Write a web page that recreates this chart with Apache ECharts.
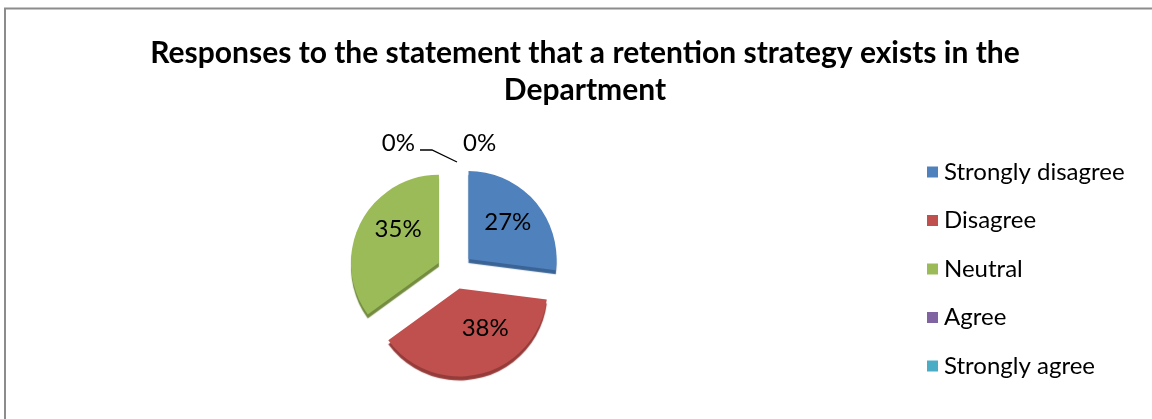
<!DOCTYPE html>
<html>
<head>
<meta charset="utf-8">
<script src="https://cdn.jsdelivr.net/npm/echarts@6/dist/echarts.min.js"></script>
<style>
  html, body { margin: 0; padding: 0; background: #ffffff; }
  #chart { width: 1152px; height: 419px; }
</style>
</head>
<body>
<div id="chart"></div>
<script>
// Survey responses (percent of respondents)
const categories = ['Strongly disagree', 'Disagree', 'Neutral', 'Agree', 'Strongly agree'];
const percents = [27, 38, 35, 0, 0];
const titleText = 'Responses to the statement that a retention strategy exists in the\nDepartment';

const colors = ['#4F81BD', '#C0504D', '#9BBB59', '#8064A2', '#4BACC6'];
const sideColors = ['#3A6496', '#953C3A', '#738C40', '#5F4A7A', '#358396'];
const FONT = 'Lato, "Open Sans", sans-serif';

const cx = 455, cy = 271, R = 88;
// nudges for the inside percentage labels (tilted-pie look)
const labelNudge = [[4, -6], [14, -6], [1, -12]];

const chart = echarts.init(document.getElementById('chart'), null, { renderer: 'canvas' });

const data = categories.map((name, i) => {
  const item = {
    name: name,
    value: percents[i],
    selected: percents[i] > 0,
    itemStyle: {
      color: colors[i],
      shadowColor: sideColors[i],
      shadowOffsetY: 4,
      shadowBlur: 1
    }
  };
  if (percents[i] === 0) {
    item.label = { position: 'outside', color: '#000' };
    item.labelLine = { show: i === 3, lineStyle: { color: '#000', width: 1.3 } };
  }
  return item;
});

chart.setOption({
  animation: false,
  color: colors,
  title: {
    text: titleText,
    left: 580,
    top: 30,
    textAlign: 'center',
    textStyle: {
      fontFamily: FONT,
      fontWeight: 'bold',
      fontSize: 30,
      lineHeight: 37,
      color: '#000'
    }
  },
  legend: {
    orient: 'vertical',
    left: 922,
    top: 155,
    itemWidth: 11,
    itemHeight: 11,
    itemGap: 24.5,
    icon: 'rect',
    selectedMode: false,
    textStyle: { fontFamily: FONT, fontSize: 24, color: '#000', lineHeight: 24, padding: [0, 0, 0, 1] },
    data: categories
  },
  graphic: [
    { type: 'line', shape: { x1: 4, y1: 8.5, x2: 1152, y2: 8.5 }, style: { stroke: '#8C8C8C', lineWidth: 2 } },
    { type: 'line', shape: { x1: 5, y1: 8, x2: 5, y2: 419 }, style: { stroke: '#8C8C8C', lineWidth: 2 } }
  ],
  series: [{
    type: 'pie',
    center: [cx, cy],
    radius: R,
    startAngle: 90,
    clockwise: true,
    selectedMode: 'multiple',
    selectedOffset: 18,
    avoidLabelOverlap: false,
    label: {
      position: 'inner',
      formatter: '{d}%',
      fontFamily: FONT,
      fontSize: 24,
      color: '#000'
    },
    labelLine: { length: 10, length2: 10 },
    labelLayout: function (params) {
      const i = params.dataIndex;
      if (i === 3) {
        return {
          x: cx - 40, y: cy - R - 40, align: 'right', verticalAlign: 'middle',
          labelLinePoints: [[cx + 2, cy - R - 21], [cx - 23, cy - R - 33], [cx - 35, cy - R - 33]]
        };
      }
      if (i === 4) {
        return { x: cx + 8, y: cy - R - 40, align: 'left', verticalAlign: 'middle' };
      }
      return { dx: labelNudge[i][0], dy: labelNudge[i][1] };
    },
    emphasis: { disabled: true },
    data: data
  }]
});
</script>
</body>
</html>
